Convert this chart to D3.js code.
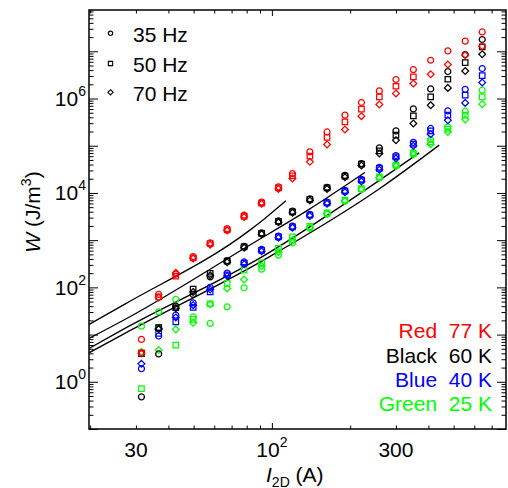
<!DOCTYPE html>
<html>
<head>
<meta charset="utf-8">
<script src="https://cdn.jsdelivr.net/npm/d3@7"></script>
<style>
  html, body { margin: 0; padding: 0; background: #fff; }
  svg { display: block; font-family: "Liberation Sans", Arial, sans-serif; }
</style>
</head>
<body>
<svg id="chart" width="508" height="488"></svg>
<script>
// transport current I2D (A), one column of markers per value
const currents = [31.5, 36.7, 42.7, 49.8, 57.9, 67.3, 78.2, 91.3, 106, 120, 140,
  163, 191, 221, 259, 300, 350, 408, 475, 554, 644];

// loss W (J/m^3); null = no marker
const red35 = [7.9, 71, 190, 450, 880, 1750, 3400, 6400, 13500, 25700, 74000,
  196000, 444000, 824000, 1.45e6, 2.53e6, 4.1e6, 6.47e6, 1.02e7, 1.64e7, 2.57e7];
const red50 = [4.1, 63, 173, 420, 840, 1650, 3200, 6100, 12800, 23000, 60000,
  150000, 320000, 594000, 1.08e6, 1.82e6, 2.87e6, null, null, null, null];
const red70 = [4.0, 61, 203, 410, 800, 1600, 3100, 5900, 12200, 20200, 45600,
  106000, 221000, 423000, 747000, 1.28e6, 2.08e6, 3.27e6, 5.25e6, 8.3e6, 1.28e7];

const black35 = [0.48, 3.9, 40, 71, 167, 370, 740, 1420, 2550, 4100, 7500,
  13200, 23500, 42000, 90100, 206000, 603000, 1.6e6, 3.73e6, 8.55e6, 1.78e7];
const black50 = [4.0, 14, 37, 92, 197, 360, 720, 1390, 2490, 3980, 7280,
  12800, 22600, 40600, 77800, 167000, 428000, 1.08e6, 2.56e6, 5.79e6, 1.24e7];
const black70 = [null, 13, 36, 80, 180, 340, 690, 1340, 2400, 3800, 6900,
  12200, 21500, 38000, 68500, 131000, 296000, 722000, 1.68e6, 3.84e6, 8.69e6];

const blue35 = [1.9, 9.3, 25.8, 47, 100, 200, 345, 640, 1220, 1980, 3500,
  6400, 11300, 19500, 35000, 62000, 118000, 232000, 547000, 1.57e6, 4.32e6];
const blue50 = [4.0, 10.6, 18.6, 37.6, 80, 185, 325, 610, 1175, 1910, 3390,
  6170, 10900, 18600, 33000, 58000, 108000, 206000, 444000, 1.18e6, 3.07e6];
const blue70 = [2.4, 13.5, 23.1, 42, 90, 175, 310, 580, 1120, 1830, 3250,
  5900, 10400, 17600, 31000, 54000, 100000, 176000, 347000, 808000, 2.18e6];

const green35 = [15.1, 30.3, 55.6, 23.8, 17.2, 38.7, 98, 243, 482, 877, 1800,
  3600, 6700, 11800, 20800, 40500, 72000, 136000, 251000, 539000, 1.5e6];
const green50 = [0.72, 14.2, 6.0, 20.9, 45, 121, 232, 331, 667, 1175, 1950,
  3790, 7030, 12400, 21900, 38800, 68500, 121000, 224000, 444000, 1.08e6];
const green70 = [4.3, 4.7, 12.9, 17.8, 44, 95, 147, 282, 565, 1000, 1850,
  3650, 6800, 12000, 21000, 37000, 65000, 108000, 196000, 360000, 759000];

// the four solid fit curves
const fit1I = [19.8, 27.2, 82.3, 94, 113.2];
const fit1W = [16.4, 44.2, 1630, 2880, 6800];
const fit2I = [19.8, 27.2, 82.3, 137.5, 228];
const fit2W = [8.3, 20.9, 790, 4320, 27200];
const fit3I = [19.8, 27.2, 94, 260, 368.5];
const fit3W = [5.1, 13.5, 482, 18700, 70600];
const fit4I = [19.8, 27.2, 94, 260, 440];
const fit4W = [4.11, 10.6, 391, 12400, 103000];

const xLabels = [30, 100, 300];
const yLabels = [1, 100, 1e4, 1e6];
const freqLabels = ['35 Hz', '50 Hz', '70 Hz'];
const tempNames = ['Red', 'Black', 'Blue', 'Green'];
const tempValues = ['77 K', '60 K', '40 K', '25 K'];
const tempColors = ['#ff0000', '#000000', '#0000ff', '#00ff00'];

const svg = d3.select('#chart');
const margin = { left: 89, top: 10, right: 506, bottom: 429 };

const x = d3.scaleLog().domain([19.8, 795]).range([margin.left, margin.right]);
const y = d3.scaleLog().domain([0.1, 7.5e7]).range([margin.bottom, margin.top]);

const diamond = {
  draw(ctx, size) {
    const h = Math.sqrt(size) * 0.62;
    ctx.moveTo(0, -h); ctx.lineTo(h, 0); ctx.lineTo(0, h); ctx.lineTo(-h, 0);
    ctx.closePath();
  }
};
const shapes = [d3.symbolCircle, d3.symbolSquare, diamond];
const dataSizes = [28, 30, 30];
const legendSizes = [15, 18.5, 17.6];

svg.append('clipPath').attr('id', 'plot-clip')
  .append('rect')
  .attr('x', margin.left).attr('y', margin.top)
  .attr('width', margin.right - margin.left)
  .attr('height', margin.bottom - margin.top);

// fit curves
const line = d3.line()
  .x(d => x(d[0]))
  .y(d => y(d[1]))
  .curve(d3.curveMonotoneX);

const fits = [[fit1I, fit1W], [fit2I, fit2W], [fit3I, fit3W], [fit4I, fit4W]];
svg.append('g').attr('clip-path', 'url(#plot-clip)')
  .selectAll('path')
  .data(fits.map(f => d3.zip(f[0], f[1])))
  .join('path')
  .attr('d', line)
  .attr('fill', 'none')
  .attr('stroke', '#000')
  .attr('stroke-width', 1.3);

// markers, green first so red ends on top
const series = [
  [green35, green50, green70, tempColors[3]],
  [blue35, blue50, blue70, tempColors[2]],
  [black35, black50, black70, tempColors[1]],
  [red35, red50, red70, tempColors[0]]
];
const pts = [];
series.forEach(s => {
  for (let k = 0; k < 3; k++) {
    s[k].forEach((w, i) => {
      if (w != null) pts.push({ i: currents[i], w: w, shape: k, color: s[3] });
    });
  }
});

svg.append('g').attr('clip-path', 'url(#plot-clip)')
  .selectAll('path')
  .data(pts)
  .join('path')
  .attr('transform', d => `translate(${x(d.i)},${y(d.w)})`)
  .attr('d', d => d3.symbol(shapes[d.shape], dataSizes[d.shape])())
  .attr('fill', 'none')
  .attr('stroke', d => d.color)
  .attr('stroke-width', 1.25);

// ticks on all four sides, pointing inward
const xMajor = [100];
const xMinor = x.ticks().filter(v => !xMajor.includes(v));
const yMajor = y.ticks().filter(v => Math.abs(Math.log10(v) - Math.round(Math.log10(v))) < 1e-6);
const yMinor = y.ticks().filter(v => !yMajor.includes(v));

const addAxis = (axis, tx, ty) => {
  const g = svg.append('g')
    .attr('transform', `translate(${tx},${ty})`)
    .call(axis.tickFormat('').tickSizeOuter(0));
  g.select('.domain').remove();
  g.selectAll('line').attr('stroke', '#000').attr('stroke-width', 1);
};
addAxis(d3.axisBottom(x).tickValues(xMajor).tickSizeInner(-6), 0, margin.bottom);
addAxis(d3.axisBottom(x).tickValues(xMinor).tickSizeInner(-3.5), 0, margin.bottom);
addAxis(d3.axisTop(x).tickValues(xMajor).tickSizeInner(-6), 0, margin.top);
addAxis(d3.axisTop(x).tickValues(xMinor).tickSizeInner(-3.5), 0, margin.top);
addAxis(d3.axisLeft(y).tickValues(yMajor).tickSizeInner(-9), margin.left, 0);
addAxis(d3.axisLeft(y).tickValues(yMinor).tickSizeInner(-4.5), margin.left, 0);
addAxis(d3.axisRight(y).tickValues(yMajor).tickSizeInner(-9), margin.right, 0);
addAxis(d3.axisRight(y).tickValues(yMinor).tickSizeInner(-4.5), margin.right, 0);

svg.append('rect')
  .attr('x', margin.left).attr('y', margin.top)
  .attr('width', margin.right - margin.left)
  .attr('height', margin.bottom - margin.top)
  .attr('fill', 'none')
  .attr('stroke', '#000')
  .attr('stroke-width', 1.5);

// tick labels
const xt = svg.append('g').selectAll('text')
  .data(xLabels)
  .join('text')
  .attr('x', d => x(d))
  .attr('y', 456.5)
  .attr('text-anchor', 'middle')
  .attr('font-size', 21);
xt.each(function (d) {
  const t = d3.select(this);
  if (d === 100) {
    t.append('tspan').text('10');
    t.append('tspan').attr('dy', -10).attr('font-size', 14).text('2');
  } else {
    t.text(d);
  }
});

const yt = svg.append('g').selectAll('text')
  .data(yLabels)
  .join('text')
  .attr('x', 86)
  .attr('y', d => y(d) + 7.5)
  .attr('text-anchor', 'end')
  .attr('font-size', 21);
yt.append('tspan').text('10');
yt.append('tspan').attr('dy', -10).attr('font-size', 14).text(d => Math.round(Math.log10(d)));

// axis titles
const xTitle = svg.append('text')
  .attr('x', 266).attr('y', 481.5)
  .attr('font-size', 21);
xTitle.append('tspan').attr('font-style', 'italic').text('I');
xTitle.append('tspan').attr('dy', 5).attr('font-size', 14).text('2D');
xTitle.append('tspan').attr('dy', -5).text(' (A)');

const yTitle = svg.append('text')
  .attr('transform', 'translate(39.5,212) rotate(-90)')
  .attr('text-anchor', 'middle')
  .attr('font-size', 21);
yTitle.append('tspan').attr('font-style', 'italic').text('W');
yTitle.append('tspan').text(' (J/m');
yTitle.append('tspan').attr('dy', -9).attr('font-size', 14).text('3');
yTitle.append('tspan').attr('dy', 9).text(')');

// frequency legend (marker shapes)
const freqY = [33.3, 63.5, 92.3];
const fl = svg.append('g').selectAll('g')
  .data(freqLabels)
  .join('g');
fl.append('path')
  .attr('transform', (d, i) => `translate(110.5,${freqY[i]})`)
  .attr('d', (d, i) => d3.symbol(shapes[i], legendSizes[i])())
  .attr('fill', 'none')
  .attr('stroke', '#000')
  .attr('stroke-width', 1.1);
fl.append('text')
  .attr('x', 133)
  .attr('y', (d, i) => freqY[i] + 8.3)
  .attr('font-size', 21)
  .text(d => d);

// temperature legend (colours)
const tempY = [338.3, 362.5, 386.7, 411];
svg.append('g').selectAll('text')
  .data(tempNames)
  .join('text')
  .attr('x', 492)
  .attr('y', (d, i) => tempY[i])
  .attr('text-anchor', 'end')
  .attr('font-size', 21)
  .attr('fill', (d, i) => tempColors[i])
  .style('white-space', 'pre')
  .text((d, i) => `${d}  ${tempValues[i]}`);
</script>
</body>
</html>
